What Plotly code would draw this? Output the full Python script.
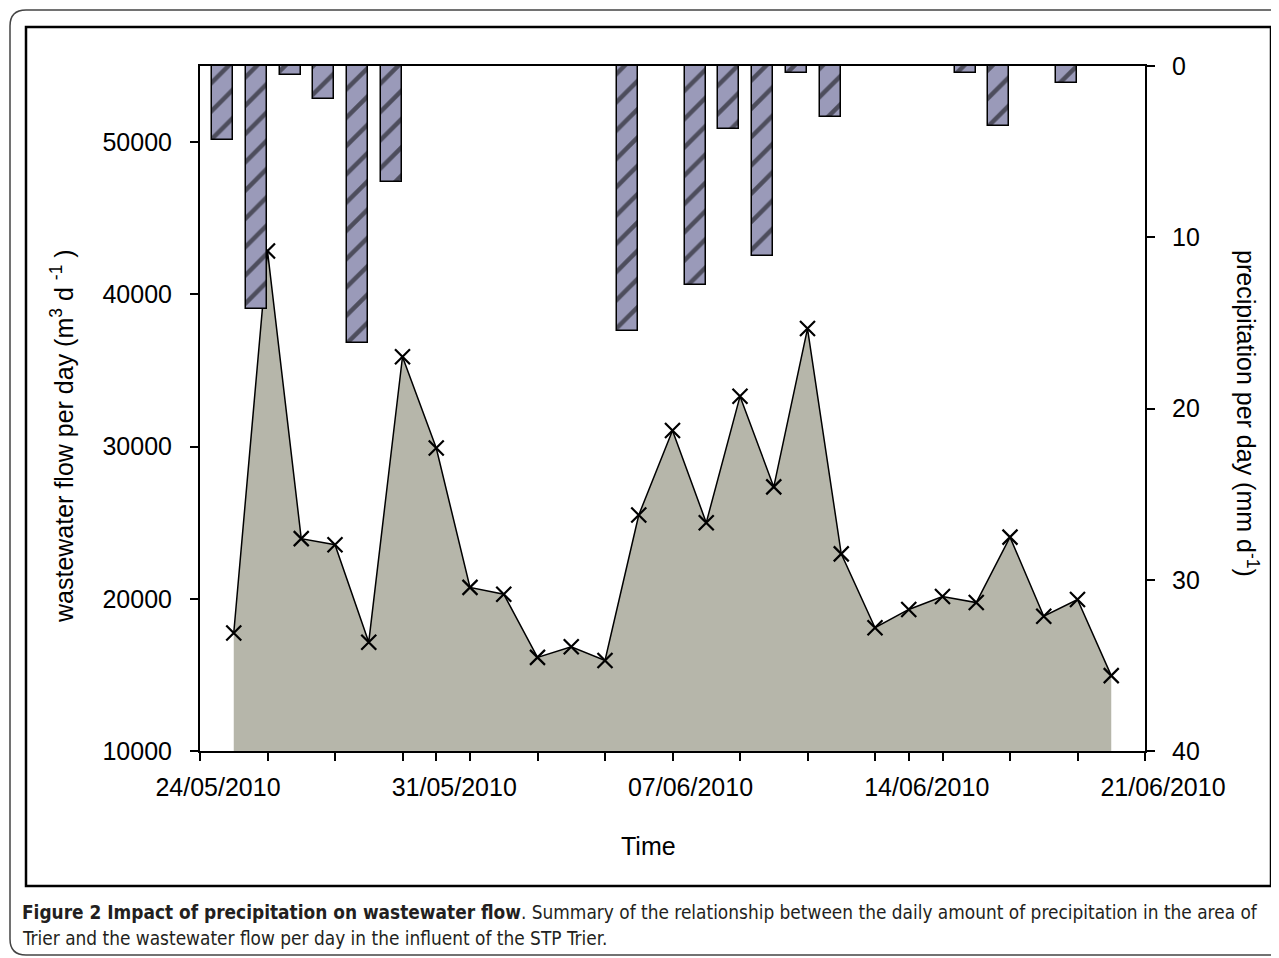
import plotly.graph_objects as go

# ---------------- data ----------------
dates = ["2010-05-25", "2010-05-26", "2010-05-27", "2010-05-28", "2010-05-29", "2010-05-30",
         "2010-05-31", "2010-06-01", "2010-06-02", "2010-06-03", "2010-06-04", "2010-06-05",
         "2010-06-06", "2010-06-07", "2010-06-08", "2010-06-09", "2010-06-10", "2010-06-11",
         "2010-06-12", "2010-06-13", "2010-06-14", "2010-06-15", "2010-06-16", "2010-06-17",
         "2010-06-18", "2010-06-19", "2010-06-20"]
flow = [17750, 42850, 23950, 23550, 17150, 35900, 29900, 20750, 20300, 16150, 16850, 15950,
        25500, 31050, 25000, 33300, 27350, 37750, 22950, 18100, 19300, 20150, 19750, 24050,
        18850, 19950, 14950]
precip = [4.3, 14.2, 0.5, 1.9, 16.2, 6.8, None, None, None, None, None, None,
          15.5, None, 12.8, 3.7, 11.1, 0.4, 3.0, None, None, None, 0.4, 3.5,
          None, 1.0, None]
flow_ticks = [10000, 20000, 30000, 40000, 50000]
precip_ticks = [0, 10, 20, 30, 40]

# ---------------- layout geometry (reference window pixels) ----------------
OFF = 8                      # page body margin
W, H = 1279 - OFF, 958 - OFF
L, R, T, B = 200, 1145, 66, 751
DAY = 86400000


def px(x):
    return (x - L) / (R - L)


def py(y):
    return (B - y) / (B - T)


FONT = "Liberation Sans, Arial, sans-serif"
fig = go.Figure()

fig.add_trace(go.Scatter(
    x=dates, y=flow, mode="lines+markers", fill="tozeroy",
    fillcolor="#b6b6aa", line=dict(color="black", width=1.5),
    marker=dict(symbol="x-thin", size=15, line=dict(color="black", width=2.2)),
    yaxis="y", showlegend=False, hoverinfo="x+y"))

fig.add_trace(go.Bar(
    x=dates, y=precip, yaxis="y2", showlegend=False,
    width=0.62 * DAY, offset=-0.64 * DAY,
    marker=dict(color="#9a9ab9", line=dict(color="black", width=1.5),
                pattern=dict(shape="/", fgcolor="black", bgcolor="#9a9ab9",
                             size=20, solidity=0.22))))

axis_common = dict(showline=True, linecolor="black", linewidth=2, ticks="outside",
                   ticklen=8, tickwidth=2, tickcolor="black", showgrid=False,
                   zeroline=False, tickfont=dict(family=FONT, size=25, color="black"))

fig.update_layout(
    width=W, height=H, autosize=False,
    margin=dict(l=L - OFF, r=W - (R - OFF), t=T - OFF, b=H - (B - OFF), pad=0),
    paper_bgcolor="white", plot_bgcolor="white",
    bargap=0,
    xaxis=dict(type="date", range=["2010-05-24", "2010-06-21"],
               tick0="2010-05-24", dtick=7 * DAY, tickformat="%d/%m/%Y",
               mirror=True, ticklabelshift=18, ticklabelstandoff=5,
               minor=dict(dtick=2 * DAY, tick0="2010-05-24", ticks="outside",
                          ticklen=8, tickwidth=2, tickcolor="black"),
               **axis_common),
    yaxis=dict(range=[10000, 55000], tickvals=flow_ticks, tickformat="d",
               ticklabelstandoff=13, **axis_common),
    yaxis2=dict(range=[40, 0], tickvals=precip_ticks, tickformat="d", overlaying="y",
                side="right", ticklabelstandoff=12, **axis_common),
)

ann = []
ann.append(dict(text="wastewater flow per day (m<sup>3</sup> d <sup>-1</sup> )",
                x=px(62), y=py(436), textangle=-90))
ann.append(dict(text="precipitation per day (mm d<sup>-1</sup>)",
                x=px(1247), y=py(413), textangle=90))
ann.append(dict(text="Time", x=px(648), y=py(846), textangle=0))
for a in ann:
    a.update(xref="paper", yref="paper", showarrow=False, xanchor="center", yanchor="middle",
             font=dict(family=FONT, size=25, color="black"))
    fig.add_annotation(**a)

CAP = "DejaVu Sans Condensed, Open Sans, sans-serif"
fig.add_annotation(
    text="<b>Figure 2 Impact of precipitation on wastewater flow</b>. Summary of the relationship "
         "between the daily amount of precipitation in the area of",
    x=px(20), y=py(912), xref="paper", yref="paper", showarrow=False,
    xanchor="left", yanchor="middle", font=dict(family=CAP, size=18.9, color="#231f20"))
fig.add_annotation(
    text="Trier and the wastewater flow per day in the influent of the STP Trier.",
    x=px(20), y=py(938), xref="paper", yref="paper", showarrow=False,
    xanchor="left", yanchor="middle", font=dict(family=CAP, size=18.9, color="#231f20"))

# inner frame
fig.add_shape(type="rect", xref="paper", yref="paper", x0=px(26), x1=px(1271),
              y0=py(886), y1=py(27), line=dict(color="black", width=2.5), layer="above")
# outer rounded frame
x0, y0, x1, y1, r = 10, 10, 1300, 955, 16
path = (f"M {px(x0 + r)},{py(y0)} L {px(x1 - r)},{py(y0)} "
        f"L {px(x1)},{py(y0 + r)} L {px(x1)},{py(y1 - r)} L {px(x1 - r)},{py(y1)} "
        f"L {px(x0 + r)},{py(y1)} Q {px(x0)},{py(y1)} {px(x0)},{py(y1 - r)} "
        f"L {px(x0)},{py(y0 + r)} Q {px(x0)},{py(y0)} {px(x0 + r)},{py(y0)} Z")
fig.add_shape(type="path", xref="paper", yref="paper", path=path,
              line=dict(color="#444", width=1.5), layer="above")

fig.write_html("out.html")
